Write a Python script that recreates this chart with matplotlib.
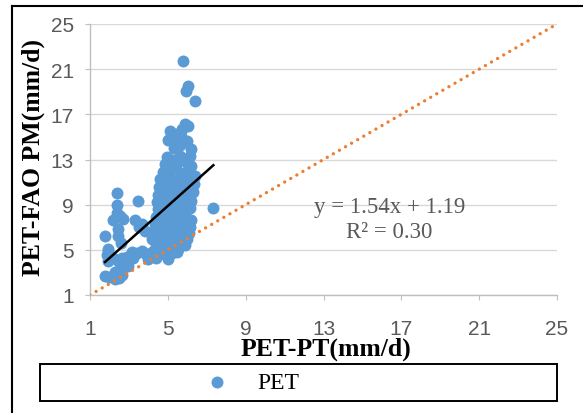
import numpy as np
import matplotlib
matplotlib.use('Agg')
import matplotlib.pyplot as plt
from matplotlib.lines import Line2D
from matplotlib.patches import Rectangle

# PET-PT (x) vs PET-FAO PM (y), mm/d
pet_pt = [5.80, 6.05, 5.92, 6.40,
          5.90, 6.05, 5.75, 5.11, 5.40, 5.70, 5.00, 5.45, 5.97, 5.60, 6.20, 5.30,
          4.95, 5.25, 5.60, 5.90, 6.15, 4.85, 5.40, 6.20,
          4.75, 5.10, 5.70, 6.00, 4.60, 5.00, 5.40, 5.80, 6.20, 6.40,
          4.55, 4.90, 5.30, 5.70, 6.10, 6.35, 4.50, 4.85, 5.20, 5.60, 6.00, 6.30,
          4.45, 4.80, 5.15, 5.50, 5.90, 6.20,
          4.50, 4.85, 5.20, 5.55, 5.90, 6.15, 4.40, 4.75, 5.10, 5.50, 5.85, 6.20,
          4.35, 4.70, 5.05, 5.40, 5.80, 6.15,
          4.30, 4.65, 5.00, 5.35, 5.75, 6.10, 4.20, 4.55, 4.90, 5.30, 5.65, 6.00,
          4.40, 4.80, 5.15, 5.50, 5.90,
          4.50, 4.90, 5.20, 4.40, 5.00, 5.45,
          7.34,
          2.40, 3.48, 2.40, 2.37, 2.20, 2.70, 2.55, 3.31, 3.65, 2.45, 3.83, 3.50,
          1.77, 2.45, 2.60, 1.94, 1.90, 1.87, 2.20, 2.63, 3.14, 3.66, 4.17, 3.90,
          3.40, 2.90, 2.50, 2.63, 2.97, 2.30, 1.77, 2.28, 2.63, 2.00, 2.50, 2.80,
          3.20, 4.00, 4.40, 1.94]
pet_fao = [21.7, 19.5, 19.1, 18.2,
           16.1, 16.0, 15.7, 15.55, 15.3, 15.1, 14.7, 14.8, 14.6, 14.3, 13.9, 14.0,
           13.2, 13.0, 13.3, 12.9, 13.3, 12.6, 12.5, 12.4,
           11.9, 12.0, 11.8, 12.0, 11.3, 11.4, 11.2, 11.3, 11.1, 11.5,
           10.6, 10.7, 10.5, 10.6, 10.4, 10.8, 9.9, 10.0, 9.8, 9.9, 9.7, 10.1,
           9.2, 9.3, 9.1, 9.2, 9.0, 9.3,
           8.6, 8.5, 8.4, 8.6, 8.3, 8.7, 7.9, 7.8, 7.9, 7.7, 7.8, 7.6,
           7.2, 7.1, 7.3, 7.0, 7.2, 7.0,
           6.6, 6.5, 6.4, 6.6, 6.3, 6.5, 6.0, 5.9, 5.8, 5.9, 5.6, 6.0,
           5.3, 5.2, 5.4, 5.1, 5.4,
           4.6, 4.5, 4.7, 4.3, 4.2, 4.8,
           8.68,
           10.0, 9.35, 9.0, 8.3, 7.6, 7.7, 8.0, 7.6, 7.3, 6.85, 6.7, 7.0,
           6.2, 6.25, 5.6, 4.9, 5.1, 4.5, 4.3, 4.3, 4.8, 4.9, 4.8, 4.6,
           4.7, 4.4, 3.9, 3.3, 3.6, 3.0, 2.7, 2.4, 2.8, 2.6, 2.5, 3.9,
           4.3, 4.2, 4.5, 4.0]

# linear trend shown on the chart
trend_slope = 1.54
trend_intercept = 1.19
trend_r2 = 0.30

ticks = [1, 5, 9, 13, 17, 21, 25]

W, H = 583, 414
fig = plt.figure(figsize=(W/100, H/100), dpi=100)
ax = fig.add_axes([90/W, 1-296/H, (557-90)/W, (296-25)/H])

ax.scatter(pet_pt, pet_fao, s=74, c='#5B9BD5', linewidths=0, label='PET', zorder=3)

# 1:1 line (orange dots)
ax.plot([ticks[0], ticks[-1]], [ticks[0], ticks[-1]], color='#ED7D31', lw=2.4,
        linestyle=(0, (0.01, 2.1)), dash_capstyle='round', zorder=4)

# trendline over the data range
xt = np.array([min(pet_pt), max(pet_pt)])
ax.plot(xt, trend_slope*xt + trend_intercept, color='black', lw=1.8, zorder=5)

ax.text(16.4, 7.75, 'y = %.2fx + %.2f\nR² = %.2f' % (trend_slope, trend_intercept, trend_r2),
        ha='center', va='center', fontsize=16.5, family='Liberation Serif',
        color='#595959', linespacing=1.25)

ax.set_xlim(1, 25)
ax.set_ylim(1, 25)
ax.set_xticks(ticks)
ax.set_yticks(ticks)
for sp in ['top', 'right']:
    ax.spines[sp].set_visible(False)
for sp in ['left', 'bottom']:
    ax.spines[sp].set_color('#BFBFBF')
    ax.spines[sp].set_linewidth(1.0)
ax.yaxis.grid(True, color='#D9D9D9', lw=1.0)
ax.set_axisbelow(True)
ax.tick_params(axis='x', direction='out', length=3.6, color='#BFBFBF', pad=14,
               labelsize=15, labelcolor='#595959')
ax.tick_params(axis='y', direction='out', length=3.6, color='#BFBFBF', pad=8,
               labelsize=15, labelcolor='#595959')
for lab in ax.get_xticklabels() + ax.get_yticklabels():
    lab.set_family('Liberation Sans')

ax.set_xlabel('PET-PT(mm/d)', fontsize=18.5, fontweight='bold', family='Liberation Serif')
ax.xaxis.set_label_coords((326-90)/467, (296-338)/271)
ax.set_ylabel('PET-FAO PM(mm/d)', fontsize=18.5, fontweight='bold', family='Liberation Serif')
ax.yaxis.set_label_coords((45-90)/467, (296-158)/271)

# legend box along the bottom
fig.add_artist(Rectangle((40/W, 1-402/H), 517/W, 37/H, transform=fig.transFigure,
                         fill=False, ec='black', lw=1.4))
fig.legend(loc='center left', bbox_to_anchor=(205/W, 1-383.5/H), frameon=False,
           borderaxespad=0, borderpad=0, handlelength=1.0, handletextpad=1.2,
           prop={'family': 'Liberation Serif', 'size': 17})

# outer border (left and top edges)
fig.add_artist(Line2D([12/W, 12/W], [0, 1-7/H], color='black', lw=1.5))
fig.add_artist(Line2D([12/W, 1], [1-7/H, 1-7/H], color='black', lw=1.5))

fig.savefig('out.png', dpi=100)
